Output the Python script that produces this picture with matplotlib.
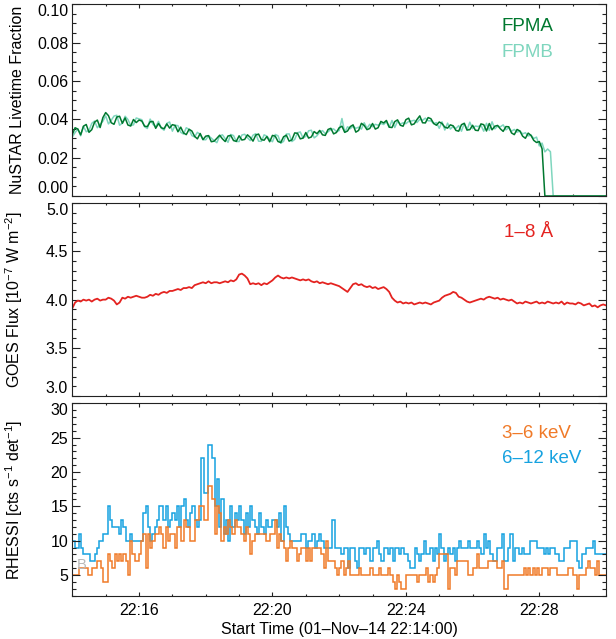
import matplotlib
matplotlib.use('Agg')
import matplotlib.pyplot as plt
from matplotlib.ticker import MultipleLocator, FormatStrFormatter, FixedLocator, FixedFormatter
import numpy as np

plt.rcParams['font.family'] = ['Liberation Sans', 'DejaVu Sans']
plt.rcParams['mathtext.fontset'] = 'custom'
plt.rcParams['mathtext.rm'] = 'Liberation Sans'
plt.rcParams['mathtext.it'] = 'Liberation Sans:italic'

# NuSTAR livetime fraction (x 1e-3), one sample every 5 s from 22:14:00
fpma_livetime = [
    32.1, 35.6, 34.9, 31.9, 36.4, 37.3, 33.2, 34.6, 38.5, 39.6, 35.7, 40.9,
    43.5, 41.9, 38.2, 37.4, 41.2, 41.6, 37.9, 40.7, 37.0, 36.5, 39.9, 38.3,
    39.6, 39.1, 36.4, 36.2, 38.7, 38.9, 35.3, 37.8, 35.6, 35.1, 37.6, 35.4,
    37.2, 36.8, 33.5, 35.9, 32.9, 32.0, 34.8, 33.9, 31.1, 29.8, 32.6, 29.4,
    31.2, 31.5, 28.3, 28.6, 30.1, 31.7, 29.8, 28.4, 31.3, 31.6, 28.9, 28.5,
    31.4, 29.2, 29.5, 31.9, 30.6, 28.6, 31.8, 32.3, 29.4, 29.1, 31.0, 28.3,
    31.6, 31.2, 28.4, 27.9, 30.9, 31.7, 28.6, 29.3, 32.9, 32.7, 29.8, 30.2,
    33.1, 30.2, 30.8, 33.6, 32.5, 34.2, 31.9, 31.6, 34.7, 35.3, 32.4, 33.1,
    35.6, 36.4, 33.2, 33.9, 36.2, 37.1, 33.3, 34.2, 37.9, 36.8, 34.6, 35.2,
    37.8, 34.9, 35.6, 38.9, 38.1, 39.4, 35.9, 35.7, 38.8, 39.7, 36.9, 36.4,
    39.8, 40.6, 37.1, 37.6, 39.9, 41.8, 38.2, 38.1, 40.9, 40.3, 37.8, 36.9,
    38.6, 37.8, 35.9, 35.4, 37.1, 36.6, 34.2, 33.8, 37.2, 37.9, 34.4, 34.6,
    36.9, 34.3, 34.1, 37.6, 37.2, 33.9, 37.8, 34.5, 36.4, 36.8, 35.0, 33.7,
    36.2, 36.1, 32.9, 32.0, 34.7, 33.9, 31.2, 30.1, 32.8, 31.6, 29.0, 27.9,
    28.4, 24.6, 0.0, 0.0, 0.0, 0.0, 0.0, 0.0, 0.0, 0.0, 0.0, 0.0,
    0.0, 0.0, 0.0, 0.0, 0.0, 0.0, 0.0, 0.0, 0.0, 0.0, 0.0, 0.0, 0.0,
]
fpmb_livetime = [
    30.8, 33.1, 34.9, 31.4, 36.3, 33.5, 34.2, 37.9, 39.1, 35.6, 37.3, 39.0,
    41.8, 37.6, 39.5, 41.7, 42.1, 36.9, 38.0, 41.6, 39.9, 36.8, 37.1, 40.7,
    40.2, 39.8, 36.1, 35.2, 40.1, 37.4, 36.0, 38.9, 35.4, 34.3, 37.9, 38.6,
    33.8, 36.9, 36.7, 33.2, 32.3, 35.6, 34.7, 31.5, 30.8, 33.2, 32.1, 29.4,
    29.3, 31.4, 30.2, 28.9, 27.8, 31.3, 31.9, 29.9, 28.0, 32.1, 31.5, 28.4,
    28.4, 31.8, 32.2, 30.4, 28.9, 31.7, 32.5, 28.6, 28.5, 31.9, 31.2, 29.5,
    28.3, 32.1, 31.4, 27.5, 28.5, 32.3, 32.4, 28.4, 29.5, 33.0, 33.4, 30.2,
    31.1, 34.0, 34.3, 30.3, 31.4, 33.3, 34.1, 32.5, 33.5, 34.7, 35.0, 33.6,
    34.1, 40.4, 33.2, 36.1, 35.1, 36.4, 35.3, 35.9, 34.9, 38.2, 35.3, 37.4,
    36.1, 37.4, 36.9, 37.9, 37.3, 38.7, 35.8, 39.4, 35.7, 39.0, 37.5, 38.2,
    37.7, 38.9, 39.1, 39.5, 38.3, 40.0, 39.5, 40.6, 39.2, 39.2, 37.8, 38.3,
    35.3, 38.7, 34.4, 38.0, 34.9, 36.3, 35.2, 36.7, 33.8, 37.9, 34.4, 38.5,
    35.1, 36.5, 36.2, 36.9, 33.8, 37.9, 34.2, 38.7, 35.0, 36.4, 36.1, 37.1,
    34.5, 35.6, 33.8, 34.7, 33.3, 33.9, 32.4, 33.0, 31.3, 31.8, 30.0, 30.7,
    26.1, 27.6, 23.0, 24.5, 23.1, 0.0, 0.0, 0.0, 0.0, 0.0, 0.0, 0.0,
    0.0, 0.0, 0.0, 0.0, 0.0, 0.0, 0.0, 0.0, 0.0, 0.0, 0.0, 0.0, 0.0,
]

# GOES 1-8 A flux (1e-7 W m^-2), one sample every 5 s from 22:14:00
goes_flux = [
    3.91, 3.97, 3.99, 3.98, 4.00, 3.99, 4.00, 3.98, 4.00, 4.01, 3.99, 4.00,
    4.00, 4.02, 4.01, 3.99, 3.95, 3.97, 4.02, 4.01, 4.03, 4.02, 4.03, 4.04,
    4.03, 4.02, 4.02, 4.03, 4.05, 4.04, 4.06, 4.05, 4.07, 4.08, 4.07, 4.09,
    4.09, 4.10, 4.11, 4.10, 4.12, 4.12, 4.13, 4.12, 4.15, 4.16, 4.17, 4.18,
    4.17, 4.19, 4.17, 4.18, 4.18, 4.17, 4.18, 4.19, 4.18, 4.20, 4.19, 4.21,
    4.26, 4.27, 4.25, 4.22, 4.16, 4.17, 4.16, 4.17, 4.15, 4.17, 4.16, 4.18,
    4.20, 4.23, 4.25, 4.23, 4.22, 4.23, 4.22, 4.23, 4.22, 4.21, 4.20, 4.21,
    4.20, 4.21, 4.19, 4.18, 4.19, 4.17, 4.18, 4.17, 4.16, 4.17, 4.16, 4.15,
    4.14, 4.12, 4.10, 4.08, 4.12, 4.16, 4.17, 4.15, 4.16, 4.14, 4.13, 4.14,
    4.12, 4.13, 4.11, 4.12, 4.13, 4.11, 4.08, 4.02, 3.99, 3.97, 3.98, 3.96,
    3.97, 3.96, 3.97, 3.95, 3.96, 3.97, 3.96, 3.97, 3.96, 3.95, 3.97, 3.98,
    3.99, 4.02, 4.04, 4.05, 4.06, 4.08, 4.07, 4.03, 4.02, 4.00, 3.98, 3.97,
    3.98, 3.99, 4.00, 4.01, 4.00, 4.02, 4.03, 4.02, 4.01, 4.02, 4.00, 4.01,
    4.00, 3.99, 4.00, 3.98, 3.96, 3.97, 3.96, 3.98, 3.97, 3.96, 3.97, 3.98,
    3.96, 3.97, 3.96, 3.98, 3.97, 3.96, 3.97, 3.96, 3.98, 3.95, 3.97, 3.96,
    3.96, 3.95, 3.97, 3.96, 3.94, 3.95, 3.96, 3.93, 3.94, 3.92, 3.94, 3.95, 3.94,
]

# RHESSI count rates (cts s^-1 det^-1), 4 s bins from 22:14:00
rhessi_3_6 = [
    5, 5, 5, 6, 6, 6, 6, 5, 5, 6, 6, 7, 7, 6, 4,
    4, 8, 7, 6, 8, 7, 8, 7, 8, 7, 5, 10, 8, 7, 7,
    8, 10, 11, 6, 11, 9, 10, 11, 11, 12, 11, 9, 12, 10, 11,
    11, 9, 12, 12, 10, 13, 12, 12, 10, 10, 13, 13, 15, 15, 13,
    13, 18, 18, 16, 11, 15, 14, 10, 12, 11, 13, 12, 11, 13, 12,
    12, 11, 10, 12, 11, 8, 10, 11, 11, 11, 11, 11, 10, 10, 11,
    11, 13, 9, 11, 10, 9, 7, 9, 10, 9, 9, 7, 8, 9, 9,
    7, 9, 7, 9, 9, 9, 9, 8, 6, 10, 7, 7, 7, 6, 5,
    6, 7, 5, 6, 7, 5, 5, 5, 5, 6, 5, 5, 5, 5, 6,
    5, 5, 5, 6, 5, 5, 5, 6, 5, 4, 3, 5, 4, 3, 3,
    5, 5, 5, 5, 5, 4, 5, 5, 5, 6, 4, 5, 4, 5, 6,
    8, 8, 8, 8, 3, 6, 6, 5, 7, 7, 7, 7, 7, 5, 5,
    6, 6, 8, 6, 6, 6, 6, 7, 7, 7, 7, 6, 6, 7, 3,
    3, 5, 5, 5, 5, 5, 5, 5, 6, 5, 6, 5, 6, 5, 6,
    5, 6, 6, 6, 5, 6, 6, 6, 5, 5, 5, 5, 5, 6, 6,
    5, 5, 3, 5, 5, 5, 6, 7, 6, 6, 5, 7, 5, 5, 5,
]
rhessi_6_12 = [
    10, 9, 9, 11, 9, 8, 8, 8, 7, 7, 8, 9, 10, 10, 11,
    11, 15, 13, 12, 12, 12, 11, 13, 12, 10, 10, 11, 10, 10, 10,
    10, 10, 14, 15, 12, 10, 11, 12, 13, 15, 15, 13, 15, 12, 13,
    14, 13, 15, 12, 15, 16, 13, 12, 14, 15, 13, 12, 13, 22, 17,
    17, 24, 24, 22, 15, 19, 12, 16, 11, 13, 10, 15, 12, 14, 13,
    15, 13, 11, 14, 12, 15, 13, 12, 11, 14, 12, 11, 13, 12, 12,
    13, 13, 12, 14, 10, 15, 12, 11, 10, 10, 10, 10, 10, 11, 11,
    9, 10, 10, 11, 9, 10, 11, 10, 9, 9, 9, 9, 13, 9, 9,
    9, 8, 9, 9, 6, 9, 9, 7, 6, 9, 9, 8, 9, 9, 7,
    9, 9, 10, 8, 7, 9, 9, 8, 9, 7, 9, 9, 8, 9, 8,
    8, 7, 6, 6, 9, 8, 7, 8, 10, 8, 8, 9, 7, 9, 8,
    11, 9, 7, 8, 9, 8, 9, 7, 9, 10, 9, 9, 9, 10, 9,
    9, 9, 10, 9, 8, 11, 9, 10, 8, 7, 7, 9, 9, 11, 7,
    7, 9, 11, 7, 9, 9, 8, 9, 8, 8, 8, 10, 10, 10, 9,
    9, 9, 8, 9, 8, 9, 9, 8, 8, 7, 7, 9, 9, 9, 10,
    10, 10, 7, 6, 8, 8, 9, 9, 9, 10, 8, 8, 8, 8, 8,
]

xtick_minutes = [2, 6, 10, 14]
xtick_labels = ['22:16', '22:20', '22:24', '22:28']

c_fpma = '#00782f'
c_fpmb = '#7fd6be'
c_goes = '#e42320'
c_lo = '#f07a28'
c_hi = '#16a2e0'

t_nu = np.arange(len(fpma_livetime)) * 5 / 60.
t_goes = np.arange(len(goes_flux)) * 5 / 60.
edges = np.arange(len(rhessi_3_6) + 1) * 4 / 60.

fig = plt.figure(figsize=(6.16, 6.39), dpi=100)
ax_top = fig.add_axes([0.1174, 0.6933, 0.8664, 0.3000])
ax_mid = fig.add_axes([0.1174, 0.3803, 0.8664, 0.3016])
ax_bot = fig.add_axes([0.1174, 0.0678, 0.8664, 0.3011])

# Top: NuSTAR livetime
ax_top.plot(t_nu, np.array(fpmb_livetime) / 1000., color=c_fpmb, lw=1.1)
ax_top.plot(t_nu, np.array(fpma_livetime) / 1000., color=c_fpma, lw=1.1)
ax_top.set_ylim(0, 0.10)
ax_top.yaxis.set_major_locator(MultipleLocator(0.02))
ax_top.yaxis.set_minor_locator(MultipleLocator(0.005))
ax_top.yaxis.set_major_formatter(FormatStrFormatter('%.2f'))
ax_top.set_ylabel('NuSTAR Livetime Fraction')
ax_top.text(0.805, 0.883, 'FPMA', color=c_fpma, fontsize=13.5, transform=ax_top.transAxes, va='center')
ax_top.text(0.805, 0.748, 'FPMB', color=c_fpmb, fontsize=13.5, transform=ax_top.transAxes, va='center')

# Middle: GOES
ax_mid.plot(t_goes, goes_flux, color=c_goes, lw=1.3)
ax_mid.set_ylim(3.0, 5.0)
ax_mid.yaxis.set_major_locator(MultipleLocator(0.5))
ax_mid.yaxis.set_minor_locator(MultipleLocator(0.1))
ax_mid.yaxis.set_major_formatter(FormatStrFormatter('%.1f'))
ax_mid.set_ylabel('GOES Flux [10$^{-7}$ W m$^{-2}$]')
ax_mid.text(0.808, 0.85, '1–8 Å', color=c_goes, fontsize=13.5, transform=ax_mid.transAxes, va='center')

# Bottom: RHESSI
ax_bot.stairs(rhessi_6_12, edges, color=c_hi, lw=1.1, baseline=None)
ax_bot.stairs(rhessi_3_6, edges, color=c_lo, lw=1.1, baseline=None)
ax_bot.set_ylim(2, 30)
ax_bot.yaxis.set_major_locator(MultipleLocator(5))
ax_bot.yaxis.set_minor_locator(MultipleLocator(1))
ax_bot.set_ylabel('RHESSI [cts s$^{-1}$ det$^{-1}$]')
ax_bot.set_xlabel('Start Time (01–Nov–14 22:14:00)', fontsize=11.5, labelpad=3)
ax_bot.text(0.805, 0.844, '3–6 keV', color=c_lo, fontsize=13.5, transform=ax_bot.transAxes, va='center')
ax_bot.text(0.805, 0.715, '6–12 keV', color=c_hi, fontsize=13.5, transform=ax_bot.transAxes, va='center')
ax_bot.text(0.008, 0.16, 'B', color='#b8b8b8', fontsize=10.5, transform=ax_bot.transAxes, va='center')

axes = (ax_top, ax_mid, ax_bot)
for ax in axes:
    ax.set_xlim(0, 16)
    ax.xaxis.set_major_locator(FixedLocator(xtick_minutes))
    ax.xaxis.set_minor_locator(MultipleLocator(1))
    ax.tick_params(which='both', direction='in', top=True, right=True, width=0.8, color='#222222')
    ax.tick_params(axis='y', which='major', length=5.8, pad=3, labelsize=11.5)
    ax.tick_params(axis='y', which='minor', length=2.9)
    ax.tick_params(axis='x', which='major', length=2.6, pad=5, labelsize=11.5)
    ax.tick_params(axis='x', which='minor', length=1.5)
    ax.yaxis.label.set_size(11.5)
    ax.yaxis.set_label_coords(-0.088, 0.5)
    for s in ax.spines.values():
        s.set_linewidth(0.8)
        s.set_color('#222222')

ax_top.tick_params(axis='x', labelbottom=False)
ax_mid.tick_params(axis='x', labelbottom=False)
ax_bot.xaxis.set_major_formatter(FixedFormatter(xtick_labels))

# keep the end labels of each y axis inside its own panel, so the
# stacked panels' labels do not run into each other
fig.canvas.draw()
for ax in axes:
    lo, hi = ax.get_ylim()
    for tick in ax.yaxis.get_major_ticks():
        loc = tick.get_loc()
        if abs(loc - lo) < 1e-9:
            tick.label1.set_verticalalignment('bottom')
        elif abs(loc - hi) < 1e-9:
            tick.label1.set_verticalalignment('top')

fig.savefig('out.png', dpi=100)
